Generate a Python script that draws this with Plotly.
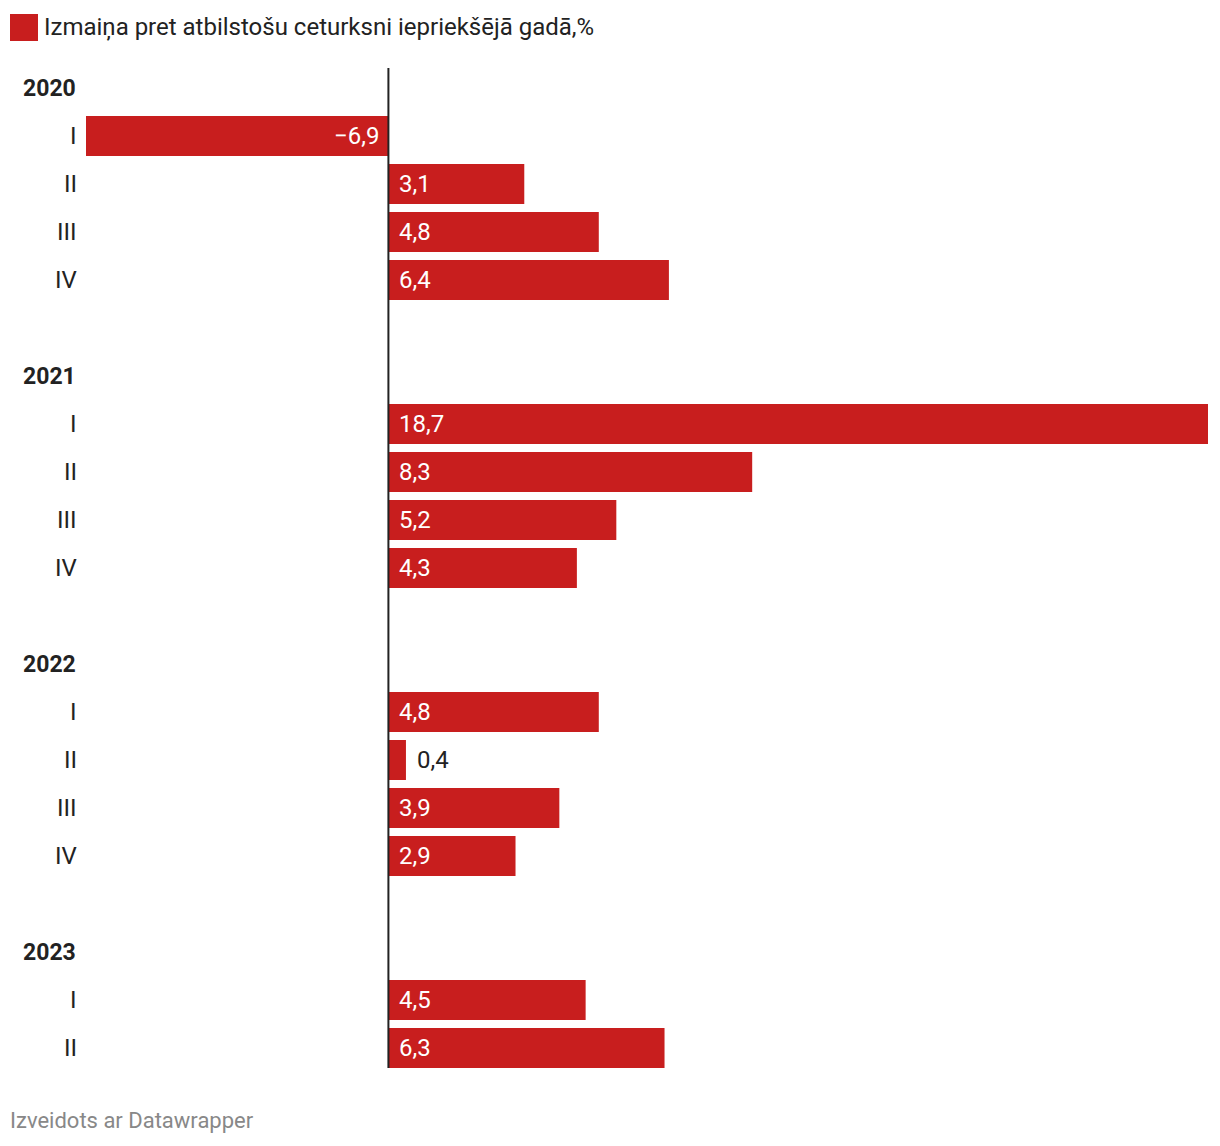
import plotly.graph_objects as go

years = ["2020", "2021", "2022", "2023"]
quarters = {
    "2020": ["I", "II", "III", "IV"],
    "2021": ["I", "II", "III", "IV"],
    "2022": ["I", "II", "III", "IV"],
    "2023": ["I", "II"],
}
values = {
    "2020": [-6.9, 3.1, 4.8, 6.4],
    "2021": [18.7, 8.3, 5.2, 4.3],
    "2022": [4.8, 0.4, 3.9, 2.9],
    "2023": [4.5, 6.3],
}
legend_text = "Izmaiņa pret atbilstošu ceturksni iepriekšējā gadā,%"
footer_text = "Izveidots ar Datawrapper"

RED = "#c81e1e"
DARK = "#222222"
FONT = "Roboto"
FS = 24

OFF = 8  # page body margin
W, H = 1204, 1130
ML, MR = 86 - OFF, W - (1208 - OFF)
MT, MB = 64 - OFF, H - (1072 - OFF)
PW, PH = W - ML - MR, H - MT - MB

def px_x(px):
    return (px - OFF - ML) / PW

def px_y(py):
    return (H - MB - (py - OFF)) / PH

rows = []
for i, y in enumerate(years):
    if i > 0:
        rows.append(("blank", "", None))
    rows.append(("year", y, None))
    for q, v in zip(quarters[y], values[y]):
        rows.append(("q", q, v))

bar_y, bar_x = [], []
annotations = []
for idx, (kind, lab, v) in enumerate(rows):
    if kind == "year":
        annotations.append(dict(x=px_x(78), xref="paper", y=idx, yref="y", text="<b>%s</b>" % lab,
                                showarrow=False, xanchor="right", yanchor="middle",
                                font=dict(family=FONT, size=FS - 1, color=DARK)))
    elif kind == "q":
        annotations.append(dict(x=px_x(79), xref="paper", y=idx, yref="y", text=lab,
                                showarrow=False, xanchor="right", yanchor="middle",
                                font=dict(family=FONT, size=FS, color=DARK)))
        bar_y.append(idx)
        bar_x.append(v)
        txt = ("%.1f" % abs(v)).replace(".", ",")
        if v < 0:
            txt = "\u2212" + txt
            annotations.append(dict(x=0, y=idx, xref="x", yref="y", text=txt, showarrow=False,
                                    xanchor="right", yanchor="middle", xshift=-7,
                                    font=dict(family=FONT, size=FS, color="white")))
        elif v < 1:
            annotations.append(dict(x=v, y=idx, xref="x", yref="y", text=txt, showarrow=False,
                                    xanchor="left", yanchor="middle", xshift=9,
                                    font=dict(family=FONT, size=FS, color=DARK)))
        else:
            annotations.append(dict(x=0, y=idx, xref="x", yref="y", text=txt, showarrow=False,
                                    xanchor="left", yanchor="middle", xshift=9,
                                    font=dict(family=FONT, size=FS, color="white")))

n = len(rows)

fig = go.Figure(go.Bar(x=bar_x, y=bar_y, orientation="h", width=40 / 48,
                       marker=dict(color=RED, line=dict(width=0)), hoverinfo="skip"))

annotations.append(dict(x=px_x(42), xref="paper", y=px_y(27), yref="paper", text=legend_text,
                        showarrow=False, xanchor="left", yanchor="middle",
                        font=dict(family=FONT, size=FS, color=DARK)))
annotations.append(dict(x=px_x(8), xref="paper", y=px_y(1120), yref="paper", text=footer_text,
                        showarrow=False, xanchor="left", yanchor="middle",
                        font=dict(family=FONT, size=22, color="#888888")))

shapes = [
    dict(type="rect", xref="paper", yref="paper", x0=px_x(10), x1=px_x(38), y0=px_y(41), y1=px_y(14),
         fillcolor=RED, line=dict(width=0)),
    dict(type="line", xref="x", yref="paper", x0=0, x1=0, y0=px_y(1068), y1=px_y(68),
         line=dict(color=DARK, width=2), layer="above"),
]

fig.update_layout(
    width=W, height=H,
    margin=dict(l=ML, r=MR, t=MT, b=MB),
    paper_bgcolor="white", plot_bgcolor="white",
    showlegend=False,
    xaxis=dict(range=[-6.9, 18.7], visible=False, fixedrange=True),
    yaxis=dict(range=[n - 0.5, -0.5], visible=False, fixedrange=True),
    annotations=annotations,
    shapes=shapes,
    font=dict(family=FONT),
)

fig.write_html("out.html", config={"displayModeBar": False})
